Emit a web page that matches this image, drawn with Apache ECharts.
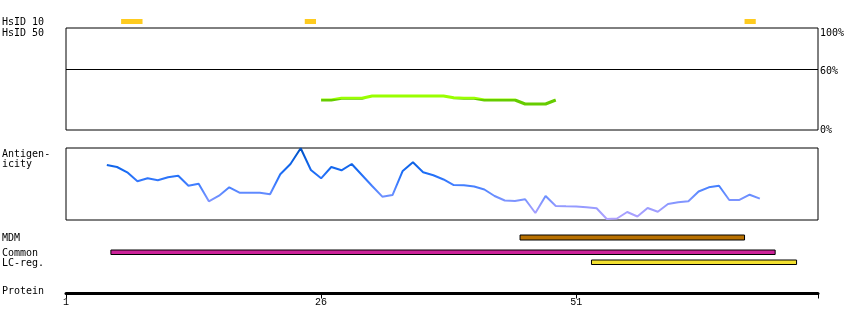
<!DOCTYPE html>
<html><head><meta charset="utf-8">
<script src="https://cdn.jsdelivr.net/npm/echarts@6/dist/echarts.min.js"></script>
<style>html,body{margin:0;padding:0;background:#fff}#c{width:850px;height:330px}</style>
</head><body><div id="c"></div>
<script>
// ---- data ----
const proteinLength = 74.7;
const proteinTicks = [1, 26, 51];
const hsid10Regions = [[6.4, 8.5], [24.4, 25.5], [67.5, 68.6]];
const hsid50Pos = [26,27,28,29,30,31,32,33,34,35,36,37,38,39,40,41,42,43,44,45,46,47,48,49];
const hsid50Pct = [29.4,29.4,31.1,31.1,31.1,33.3,33.3,33.3,33.3,33.3,33.3,33.3,33.3,31.6,31.1,31.1,29.4,29.4,29.4,29.4,25.5,25.5,25.5,29.4];
const hsidLabelValues = [0, 60, 100];
const antigenPos = [5,6,7,8,9,10,11,12,13,14,15,16,17,18,19,20,21,22,23,24,25,26,27,28,29,30,31,32,33,34,35,36,37,38,39,40,41,42,43,44,45,46,47,48,49,50,51,52,53,54,55,56,57,58,59,60,61,62,63,64,65,66,67,68,69];
const antigenicity = [0.764,0.736,0.663,0.538,0.579,0.551,0.593,0.615,0.476,0.504,0.26,0.338,0.454,0.379,0.379,0.379,0.357,0.635,0.778,0.996,0.694,0.579,0.736,0.69,0.778,0.625,0.472,0.324,0.347,0.681,0.801,0.663,0.621,0.563,0.486,0.482,0.465,0.424,0.333,0.271,0.264,0.288,0.097,0.333,0.194,0.19,0.188,0.176,0.163,0.014,0.021,0.111,0.049,0.167,0.115,0.222,0.246,0.26,0.396,0.454,0.476,0.278,0.278,0.351,0.296];
const mdmRegion = [[45.5, 67.5]];
const commonRegion = [[5.4, 70.5]];
const lcRegion = [[52.5, 72.6]];

// ---- chart ----
const FONT = 'DejaVu Sans Mono';
const L = 66, W = 752;
const grids = [
  {left: L, width: W, top: 19, height: 5},
  {left: L, width: W, top: 28, height: 102, show: true, borderColor: '#000', borderWidth: 1},
  {left: L, width: W, top: 148, height: 72, show: true, borderColor: '#000', borderWidth: 1},
  {left: L, width: W, top: 235, height: 5},
  {left: L, width: W, top: 250, height: 4.5},
  {left: L, width: W, top: 260, height: 4.5},
  {left: L, width: W, top: 293.5, height: 0}
];
const xAxes = grids.map((g, i) => ({
  type: 'value', gridIndex: i, min: 1, max: proteinLength,
  show: i === 6,
  axisLine: {show: i === 6, lineStyle: {color: '#000', width: 3}},
  axisTick: {show: i === 6, length: 5, lineStyle: {color: '#000', width: 1},
             customValues: proteinTicks.concat([proteinLength])},
  axisLabel: {show: i === 6, customValues: proteinTicks, fontFamily: 'Liberation Mono', fontSize: 10, color: '#000', margin: 4},
  splitLine: {show: false}
}));
const yAxes = grids.map((g, i) => {
  if (i === 1) return {
    type: 'value', gridIndex: 1, min: 0, max: 100, position: 'right',
    axisLine: {show: false}, axisTick: {show: false}, splitLine: {show: false},
    axisLabel: {customValues: hsidLabelValues, margin: 2, fontFamily: FONT, fontSize: 10, color: '#000',
      formatter: v => v === 100 ? '{t|100%}' : (v === 60 ? '{m|60%}' : v + '%'),
      rich: {t: {padding: [10, 0, 0, 0], fontFamily: FONT, fontSize: 10, color: '#000'},
             m: {padding: [6, 0, 0, 0], fontFamily: FONT, fontSize: 10, color: '#000'}}}
  };
  return {type: 'value', gridIndex: i, min: 0, max: 1, show: false};
});

function rectItem(fill, stroke) {
  return function (params, api) {
    const cs = params.coordSys;
    const p0 = api.coord([api.value(0), 0]);
    const p1 = api.coord([api.value(1), 0]);
    return {
      type: 'rect',
      shape: {x: p0[0], y: cs.y, width: p1[0] - p0[0], height: cs.height},
      style: stroke ? {fill: fill, stroke: stroke, lineWidth: 1} : {fill: fill}
    };
  };
}

const labelStyle = {fontFamily: FONT, fontSize: 10, fill: '#000'};
function label(text, top) {
  return {type: 'text', left: 2, top: top, style: Object.assign({text: text}, labelStyle)};
}

function buildOption(greenVM) {
  return {
    animation: false,
    grid: grids,
    xAxis: xAxes,
    yAxis: yAxes,
    visualMap: [
      greenVM,
      {type: 'continuous', show: false, seriesIndex: 2, dimension: 1, min: 0, max: 1,
       inRange: {color: ['#b3a3ff', '#9a9cff', '#6b8fff', '#3f7dff', '#1a6cf5', '#0a5fe0', '#004fbf']}}
    ],
    graphic: [
      label('HsID 10', 17),
      label('HsID 50', 28),
      label('Antigen-', 149),
      label('icity', 159),
      label('MDM', 233),
      label('Common', 248),
      label('LC-reg.', 258),
      label('Protein', 286)
    ],
    series: [
      {type: 'custom', xAxisIndex: 0, yAxisIndex: 0, renderItem: rectItem('#fecb1f'),
       encode: {x: [0, 1]}, data: hsid10Regions, silent: true},
      {type: 'line', xAxisIndex: 1, yAxisIndex: 1, showSymbol: false, symbol: 'none',
       lineStyle: {width: 3}, data: hsid50Pos.map((p, i) => [p, hsid50Pct[i]]), silent: true,
       markLine: {silent: true, symbol: 'none', label: {show: false},
         lineStyle: {color: '#000', width: 1, type: 'solid'}, data: [{yAxis: 60}]}},
      {type: 'line', xAxisIndex: 2, yAxisIndex: 2, showSymbol: false, symbol: 'none',
       lineStyle: {width: 2}, data: antigenPos.map((p, i) => [p, antigenicity[i]]), silent: true},
      {type: 'custom', xAxisIndex: 3, yAxisIndex: 3, renderItem: rectItem('#b87000', '#000'),
       encode: {x: [0, 1]}, data: mdmRegion, silent: true},
      {type: 'custom', xAxisIndex: 4, yAxisIndex: 4, renderItem: rectItem('#cc2299', '#000'),
       encode: {x: [0, 1]}, data: commonRegion, silent: true},
      {type: 'custom', xAxisIndex: 5, yAxisIndex: 5, renderItem: rectItem('#f2e030', '#000'),
       encode: {x: [0, 1]}, data: lcRegion, silent: true}
    ]
  };
}
const el = document.getElementById('c');
let chart = echarts.init(el, null, {renderer: 'canvas'});
try {
  chart.setOption(buildOption({type: 'piecewise', show: false, seriesIndex: 1, dimension: 1,
    pieces: [{gte: 0, lt: 30, color: '#66cc00'}, {gte: 30, lte: 100, color: '#99ff00'}]}));
} catch (e) {
  chart.dispose();
  chart = echarts.init(el, null, {renderer: 'canvas'});
  chart.setOption(buildOption({type: 'continuous', show: false, seriesIndex: 1, dimension: 1, min: 29.5, max: 30.5,
    inRange: {color: ['#66cc00', '#99ff00']}}));
}
</script>
</body></html>
